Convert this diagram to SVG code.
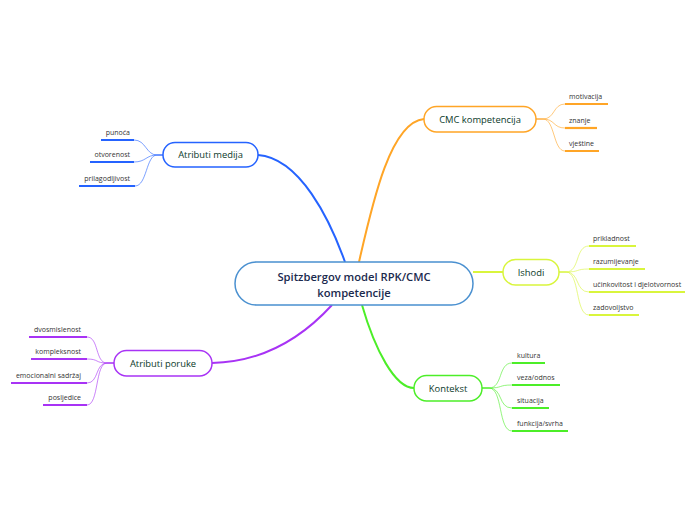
<svg xmlns="http://www.w3.org/2000/svg" width="696" height="520" viewBox="0 0 696 520">
<style>
text{font-family:"Open Sans","Noto Sans","Liberation Sans",sans-serif}
.leaf{font-size:7px;fill:#333}
.sub{font-size:9.4px;fill:#0b3a2a;text-anchor:middle;font-weight:500}
.main{font-size:11.2px;fill:#1b2a4e;text-anchor:middle;font-weight:600}
.node{fill:#fff;stroke-width:1.5}
.conn{fill:none}
.b{stroke:#2563ff}.o{stroke:#ffa526}.y{stroke:#d9f53c}.g{stroke:#4cee28}.p{stroke:#a833f5}
.thin{stroke-width:1;opacity:.6;fill:none}
.ul{stroke-width:2.2;fill:none}
</style>
<rect width="696" height="520" fill="#fff"/>
<g id="connectors">
<path class="conn b" stroke-width="2" d="M258,155 C300,158 330,220 345,262"/>
<path class="conn o" stroke-width="2" d="M359,262 C372,205 390,122 424,119"/>
<path class="conn y" stroke-width="2" d="M473,272 L503,272"/>
<path class="conn g" stroke-width="2" d="M362,305 C375,350 395,388 414,388"/>
<path class="conn p" stroke-width="2" d="M332,305 C300,340 260,362 212,363"/>
<path class="thin b" d="M163,155 L157,155 C146,155 146,140 134,140"/>
<path class="thin b" d="M163,155 L157,155 C146,155 146,162 134,162"/>
<path class="thin b" d="M163,155 L157,155 C146,155 147,186 135,186"/>
<path class="thin o" d="M536,119 L543,119 C555,119 553,104 565,104"/>
<path class="thin o" d="M536,119 L543,119 C555,119 553,128 565,128"/>
<path class="thin o" d="M536,119 L543,119 C555,119 553,151 565,151"/>
<path class="thin y" d="M559,272 L566,272 C580,272 575,246 589,246"/>
<path class="thin y" d="M559,272 L566,272 C580,272 575,269 589,269"/>
<path class="thin y" d="M559,272 L566,272 C580,272 575,292 589,292"/>
<path class="thin y" d="M559,272 L566,272 C580,272 575,315 589,315"/>
<path class="thin g" d="M482,388 L489,388 C503,388 498,363 512,363"/>
<path class="thin g" d="M482,388 L489,388 C503,388 498,385 512,385"/>
<path class="thin g" d="M482,388 L489,388 C503,388 498,408 512,408"/>
<path class="thin g" d="M482,388 L489,388 C503,388 498,431 512,431"/>
<path class="thin p" d="M114,363 L107,363 C95,363 99,337 87,337"/>
<path class="thin p" d="M114,363 L107,363 C95,363 99,359 87,359"/>
<path class="thin p" d="M114,363 L107,363 C95,363 99,383 87,383"/>
<path class="thin p" d="M114,363 L107,363 C95,363 99,405 87,405"/>
</g>
<g id="central">
<rect x="235" y="262" width="238" height="43" rx="21.5" fill="#fff" stroke="#4a90d0" stroke-width="1.5"/>
<text class="main" x="354" y="280.5">Spitzbergov model RPK/CMC</text>
<text class="main" x="354" y="296.5">kompetencije</text>
</g>
<g id="atributi-medija">
<rect class="node b" x="163" y="142.5" width="95" height="24.5" rx="12"/>
<text class="sub" x="210.5" y="158.3">Atributi medija</text>
</g>
<g id="punoca"><line class="ul b" x1="101" y1="140" x2="134" y2="140"/><text class="leaf" x="130" y="135" text-anchor="end">punoća</text></g>
<g id="otvorenost"><line class="ul b" x1="90" y1="162" x2="134" y2="162"/><text class="leaf" x="130" y="157" text-anchor="end">otvorenost</text></g>
<g id="prilagodljivost"><line class="ul b" x1="79" y1="186" x2="135" y2="186"/><text class="leaf" x="130" y="181" text-anchor="end">prilagodljivost</text></g>
<g id="cmc-kompetencija">
<rect class="node o" x="424" y="106.5" width="112" height="25.5" rx="12.5"/>
<text class="sub" x="480" y="122.8">CMC kompetencija</text>
</g>
<g id="motivacija"><line class="ul o" x1="565" y1="104" x2="608" y2="104"/><text class="leaf" x="569" y="99">motivacija</text></g>
<g id="znanje"><line class="ul o" x1="565" y1="128" x2="597" y2="128"/><text class="leaf" x="569" y="123">znanje</text></g>
<g id="vjestine"><line class="ul o" x1="565" y1="151" x2="599" y2="151"/><text class="leaf" x="569" y="146">vještine</text></g>
<g id="ishodi">
<rect class="node y" x="503" y="259.5" width="56" height="25.5" rx="12.5"/>
<text class="sub" x="531" y="275.8">Ishodi</text>
</g>
<g id="prikladnost"><line class="ul y" x1="589" y1="246" x2="636" y2="246"/><text class="leaf" x="593" y="241">prikladnost</text></g>
<g id="razumijevanje"><line class="ul y" x1="589" y1="269" x2="645" y2="269"/><text class="leaf" x="593" y="264">razumijevanje</text></g>
<g id="ucinkovitost"><line class="ul y" x1="589" y1="292" x2="685" y2="292"/><text class="leaf" x="593" y="287">učinkovitost i djelotvornost</text></g>
<g id="zadovoljstvo"><line class="ul y" x1="589" y1="315" x2="639" y2="315"/><text class="leaf" x="593" y="310">zadovoljstvo</text></g>
<g id="kontekst">
<rect class="node g" x="414" y="375.5" width="68" height="25.5" rx="12.5"/>
<text class="sub" x="448" y="391.8">Kontekst</text>
</g>
<g id="kultura"><line class="ul g" x1="512" y1="363" x2="545" y2="363"/><text class="leaf" x="517" y="358">kultura</text></g>
<g id="veza-odnos"><line class="ul g" x1="512" y1="385" x2="560" y2="385"/><text class="leaf" x="517" y="380">veza/odnos</text></g>
<g id="situacija"><line class="ul g" x1="512" y1="408" x2="549" y2="408"/><text class="leaf" x="517" y="403">situacija</text></g>
<g id="funkcija-svrha"><line class="ul g" x1="512" y1="431" x2="568" y2="431"/><text class="leaf" x="517" y="426">funkcija/svrha</text></g>
<g id="atributi-poruke">
<rect class="node p" x="114" y="350.5" width="98" height="25.5" rx="12.5"/>
<text class="sub" x="163" y="366.8">Atributi poruke</text>
</g>
<g id="dvosmislenost"><line class="ul p" x1="29" y1="337" x2="87" y2="337"/><text class="leaf" x="81" y="332" text-anchor="end">dvosmislenost</text></g>
<g id="kompleksnost"><line class="ul p" x1="31" y1="359" x2="87" y2="359"/><text class="leaf" x="81" y="354" text-anchor="end">kompleksnost</text></g>
<g id="emocionalni"><line class="ul p" x1="11" y1="383" x2="87" y2="383"/><text class="leaf" x="81" y="378" text-anchor="end">emocionalni sadržaj</text></g>
<g id="posljedice"><line class="ul p" x1="43" y1="405" x2="87" y2="405"/><text class="leaf" x="81" y="400" text-anchor="end">posljedice</text></g>
</svg>
